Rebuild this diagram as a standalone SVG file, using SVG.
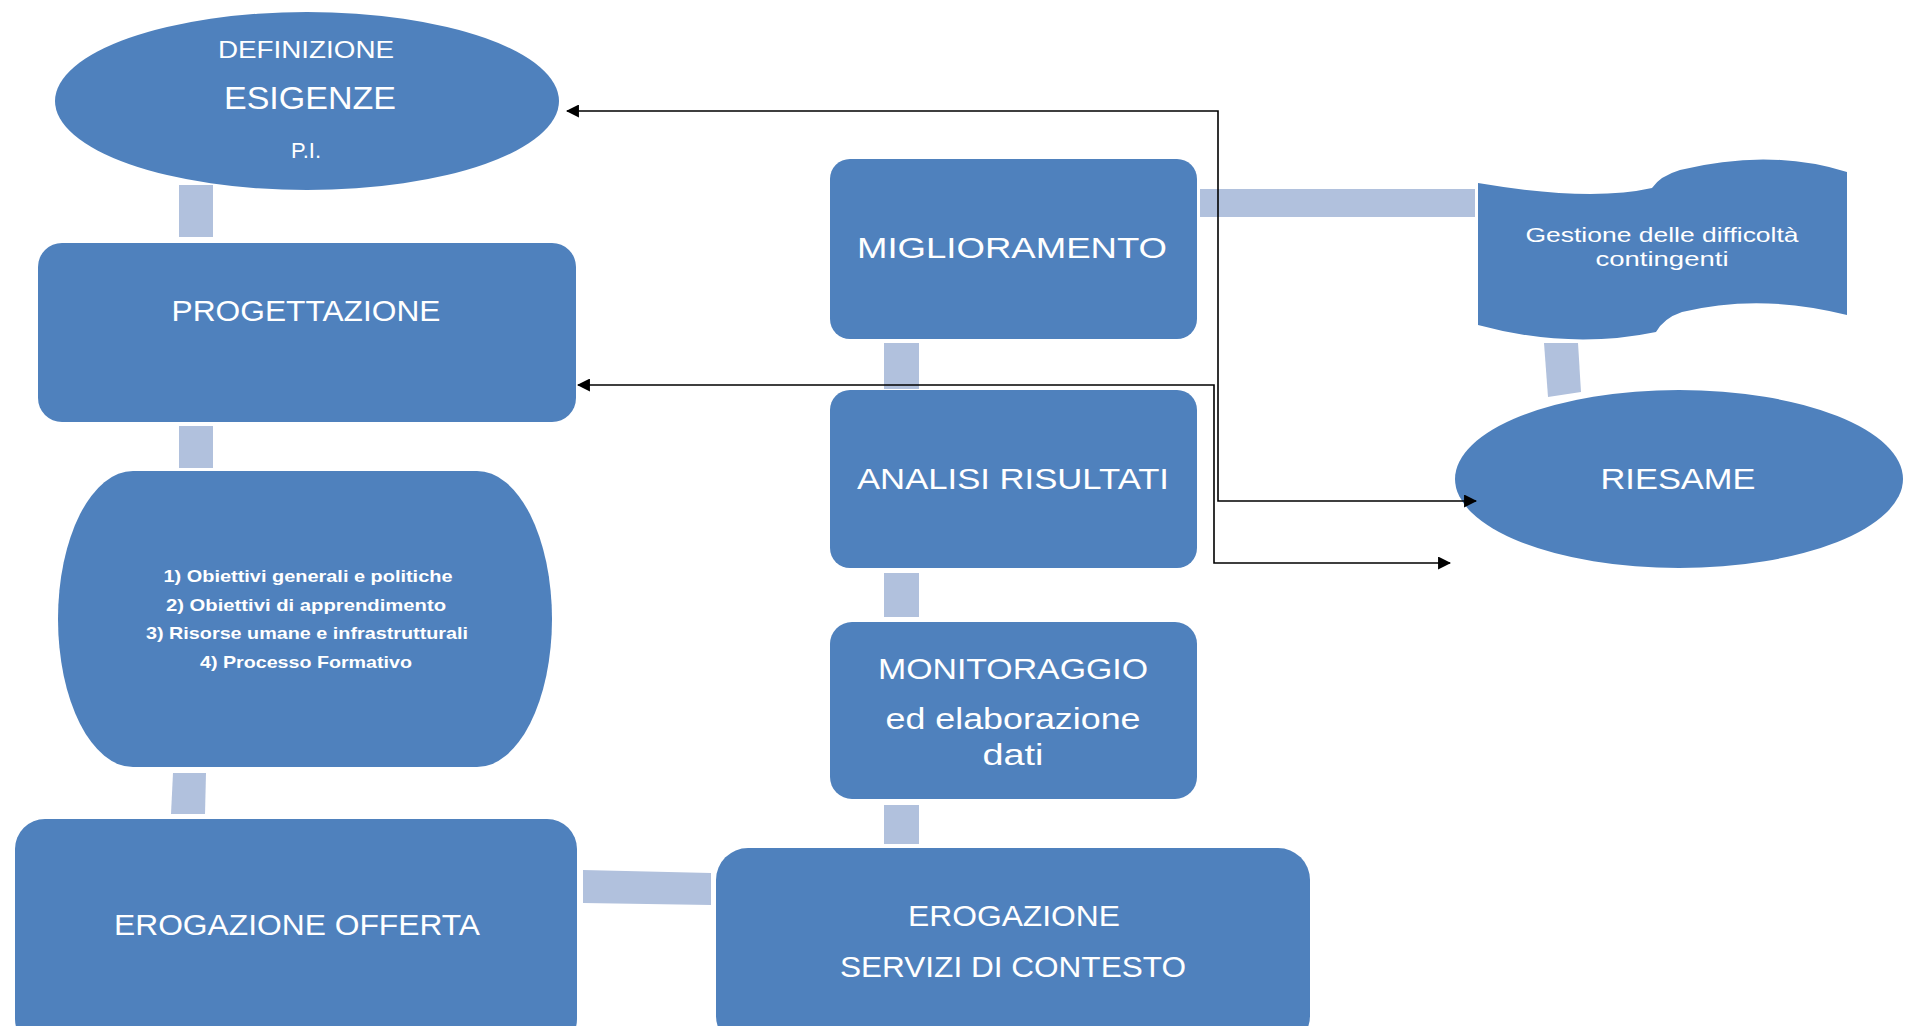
<svg xmlns="http://www.w3.org/2000/svg" width="1905" height="1026" viewBox="0 0 1905 1026">
<style>
.node{fill:#4F81BD}
.bar{fill:#B1C1DD}
.t{fill:#FFFFFF;font-family:"Liberation Sans","Open Sans",Arial,sans-serif;text-anchor:middle}
.line{fill:none;stroke:#000;stroke-width:1.6}
</style>
<defs>
<marker id="ah" viewBox="0 0 12 12" refX="11" refY="6" markerWidth="13" markerHeight="13" markerUnits="userSpaceOnUse" orient="auto-start-reverse">
<path d="M0,0 L12,6 L0,12 Z" fill="#000"/>
</marker>
</defs>
<rect width="1905" height="1026" fill="#FFFFFF"/>
<g id="connectors">
<rect class="bar" x="179" y="185" width="34" height="52"/>
<rect class="bar" x="179" y="426" width="34" height="42"/>
<polygon class="bar" points="173,773 206,773 205,814 171,814"/>
<polygon class="bar" points="583,870 711,873 711,905 583,903"/>
<rect class="bar" x="884" y="805" width="35" height="39"/>
<rect class="bar" x="884" y="573" width="35" height="44"/>
<rect class="bar" x="884" y="343" width="35" height="46"/>
<rect class="bar" x="1200" y="189" width="275" height="28"/>
<polygon class="bar" points="1544,343 1578,343 1581,392 1548,397"/>
</g>
<g id="n-definizione">
<ellipse class="node" cx="307" cy="101" rx="252" ry="89"/>
<text class="t" x="306" y="58" font-size="24" textLength="176" lengthAdjust="spacingAndGlyphs">DEFINIZIONE</text>
<text class="t" x="310" y="109" font-size="31" textLength="172" lengthAdjust="spacingAndGlyphs">ESIGENZE</text>
<text class="t" x="306" y="158" font-size="22">P.I.</text>
</g>
<g id="n-progettazione">
<rect class="node" x="38" y="243" width="538" height="179" rx="24" ry="24"/>
<text class="t" x="306" y="321" font-size="30" textLength="269" lengthAdjust="spacingAndGlyphs">PROGETTAZIONE</text>
</g>
<g id="n-obiettivi">
<rect class="node" x="58" y="471" width="494" height="296" rx="75" ry="148"/>
<text class="t" x="308" y="582" font-size="17" font-weight="bold" textLength="289" lengthAdjust="spacingAndGlyphs">1) Obiettivi generali e politiche</text>
<text class="t" x="306" y="611" font-size="17" font-weight="bold" textLength="280" lengthAdjust="spacingAndGlyphs">2) Obiettivi di apprendimento</text>
<text class="t" x="307" y="639" font-size="17" font-weight="bold" textLength="322" lengthAdjust="spacingAndGlyphs">3) Risorse umane e infrastrutturali</text>
<text class="t" x="306" y="668" font-size="17" font-weight="bold" textLength="212" lengthAdjust="spacingAndGlyphs">4) Processo Formativo</text>
</g>
<g id="n-erogazione-offerta">
<rect class="node" x="15" y="819" width="562" height="230" rx="30" ry="30"/>
<text class="t" x="297" y="935" font-size="30" textLength="366" lengthAdjust="spacingAndGlyphs">EROGAZIONE OFFERTA</text>
</g>
<g id="n-servizi">
<rect class="node" x="716" y="848" width="594" height="200" rx="32" ry="32"/>
<text class="t" x="1014" y="926" font-size="30" textLength="212" lengthAdjust="spacingAndGlyphs">EROGAZIONE</text>
<text class="t" x="1013" y="977" font-size="30" textLength="346" lengthAdjust="spacingAndGlyphs">SERVIZI DI CONTESTO</text>
</g>
<g id="n-monitoraggio">
<rect class="node" x="830" y="622" width="367" height="177" rx="22" ry="22"/>
<text class="t" x="1013" y="679" font-size="30" textLength="270" lengthAdjust="spacingAndGlyphs">MONITORAGGIO</text>
<text class="t" x="1013" y="729" font-size="30" textLength="255" lengthAdjust="spacingAndGlyphs">ed elaborazione</text>
<text class="t" x="1013" y="765" font-size="30" textLength="61" lengthAdjust="spacingAndGlyphs">dati</text>
</g>
<g id="n-analisi">
<rect class="node" x="830" y="390" width="367" height="178" rx="20" ry="20"/>
<text class="t" x="1013" y="489" font-size="30" textLength="312" lengthAdjust="spacingAndGlyphs">ANALISI RISULTATI</text>
</g>
<g id="n-miglioramento">
<rect class="node" x="830" y="159" width="367" height="180" rx="20" ry="20"/>
<text class="t" x="1012" y="258" font-size="30" textLength="310" lengthAdjust="spacingAndGlyphs">MIGLIORAMENTO</text>
</g>
<g id="n-gestione">
<path class="node" d="M1478,183 Q1590,202 1652,188 Q1660,176 1680,170 Q1770,148 1847,172 V315 Q1760,293 1682,312 Q1664,318 1656,332 Q1570,350 1478,325 Z"/>
<text class="t" x="1662" y="242" font-size="21" textLength="273" lengthAdjust="spacingAndGlyphs">Gestione delle difficoltà</text>
<text class="t" x="1662" y="266" font-size="21" textLength="133" lengthAdjust="spacingAndGlyphs">contingenti</text>
</g>
<g id="n-riesame">
<ellipse class="node" cx="1679" cy="479" rx="224" ry="89"/>
<text class="t" x="1678" y="489" font-size="30" textLength="155" lengthAdjust="spacingAndGlyphs">RIESAME</text>
</g>
<g id="arrows">
<path class="line" d="M567,111 H1218 V501 H1476" marker-start="url(#ah)" marker-end="url(#ah)"/>
<path class="line" d="M578,385 H1214 V563 H1450" marker-start="url(#ah)" marker-end="url(#ah)"/>
</g>
</svg>
